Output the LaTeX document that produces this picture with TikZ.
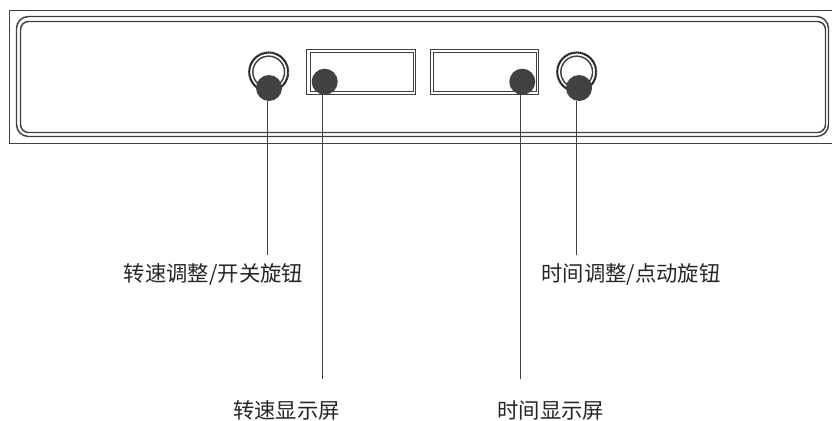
\documentclass[tikz,border=0pt]{standalone}
\usepackage{fontspec}
\setmainfont{Noto Sans CJK SC}
\definecolor{dotgray}{HTML}{414141}
\definecolor{linegray}{HTML}{404040}
\tikzset{
  panel/.style={draw=linegray, line width=1.1pt},
  dotmark/.style={circle, fill=dotgray, minimum size=19.5pt, inner sep=0pt},
  pointer/.style={draw=linegray, line width=0.8pt},
  caption/.style={font=\fontsize{16}{19}\selectfont, text=black!85, inner sep=0pt}
}
\begin{document}
\begin{tikzpicture}[x=0.75pt, y=-0.75pt]
        \useasboundingbox (0,0) rectangle (832,421);
        % Panel
        \draw[panel] (832,10.5) -- (9.5,10.5) -- (9.5,143.5) -- (832,143.5);
        \draw[panel, rounded corners=9pt] (16.5,16.5) rectangle (828.5,136.5);
        \draw[panel, rounded corners=6pt] (20.5,21.5) rectangle (825.5,132.5);
        % Displays
        \draw[panel] (306.5,49.5) rectangle (415.5,94.5);
        \draw[panel] (310.5,52.5) rectangle (413.5,91.5);
        \draw[panel] (430.5,49.5) rectangle (538.5,94.5);
        \draw[panel] (433.5,52.5) rectangle (536.5,91.5);
        % Knobs
        \foreach \cx in {268.7,576.7} {
          \draw[black!85, line width=1.6pt, dash pattern=on 1.2pt off 0.3pt] (\cx,72) circle (14.6pt);
          \draw[panel] (\cx,72) circle (11.9pt);
        }
        % Dots
        \node[dotmark] (knobleft) at (269,88) {};
        \node[dotmark] (screenleft) at (324.7,81.7) {};
        \node[dotmark] (screenright) at (522.3,81.7) {};
        \node[dotmark] (knobright) at (579,88) {};
        % Labels
        \coordinate (knobleftend) at (267.5,255);
        \coordinate (screenleftend) at (322.5,379);
        \coordinate (screenrightend) at (520.5,379);
        \coordinate (knobrightend) at (576.5,255);
        \draw[pointer] (knobleft.south -| knobleftend) -- (knobleftend);
        \draw[pointer] (screenleft.south -| screenleftend) -- (screenleftend);
        \draw[pointer] (screenright.south -| screenrightend) -- (screenrightend);
        \draw[pointer] (knobright.south -| knobrightend) -- (knobrightend);
        \node[caption] (knoblefttext) at (213.5,274) {转速调整/开关旋钮};
        \node[caption] (knobrighttext) at (631,274) {时间调整/点动旋钮};
        \node[caption] (screenlefttext) at (286.5,410) {转速显示屏};
        \node[caption] (screenrighttext) at (550.7,410) {时间显示屏};
    \end{tikzpicture}
\end{document}
